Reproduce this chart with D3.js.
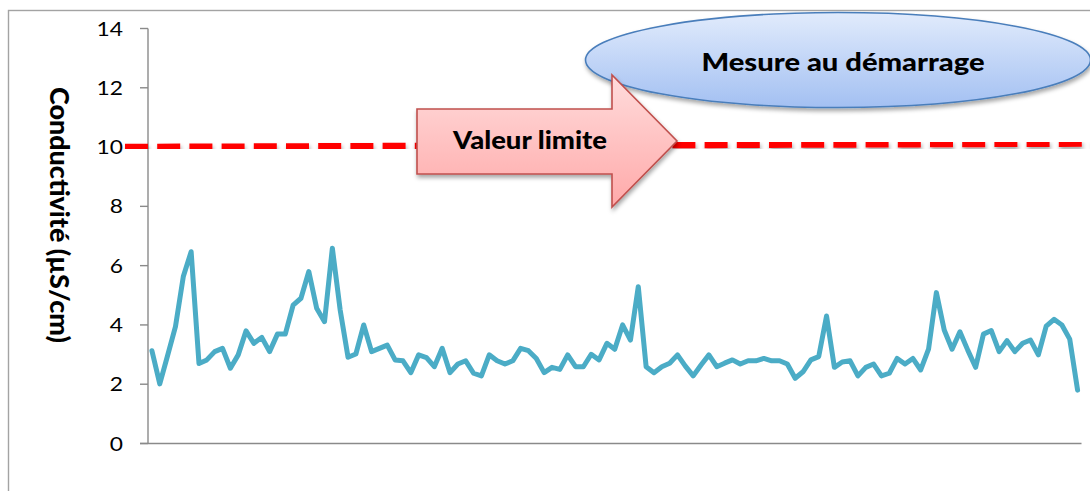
<!DOCTYPE html>
<html>
<head>
<meta charset="utf-8">
<script src="https://cdn.jsdelivr.net/npm/d3@7/dist/d3.min.js"></script>
<style>
  html, body { margin: 0; padding: 0; background: #fff; }
  svg { display: block; }
  text { font-family: Lato, "Open Sans", "DejaVu Sans", sans-serif; }
</style>
</head>
<body>
<svg id="chart" width="1090" height="491"></svg>
<script>
// Conductivity readings (µS/cm), one per measurement
const conductivity = [
  3.13, 2.01, 2.97, 3.94, 5.63, 6.47, 2.70, 2.82, 3.10, 3.21,
  2.54, 2.99, 3.80, 3.38, 3.58, 3.10, 3.69, 3.69, 4.67, 4.90,
  5.80, 4.56, 4.11, 6.59, 4.50, 2.91, 3.02, 4.00, 3.10, 3.21,
  3.32, 2.82, 2.79, 2.39, 2.99, 2.90, 2.59, 3.21, 2.39, 2.68,
  2.79, 2.37, 2.28, 2.99, 2.79, 2.68, 2.79, 3.21, 3.13, 2.87,
  2.39, 2.57, 2.50, 2.99, 2.59, 2.59, 3.01, 2.82, 3.38,
  3.18, 4.00, 3.49, 5.29, 2.59, 2.39, 2.59, 2.71, 2.99, 2.61,
  2.28, 2.65, 2.99, 2.59, 2.71, 2.82, 2.68, 2.79, 2.79, 2.87,
  2.79, 2.79, 2.68, 2.20, 2.42, 2.82, 2.93, 4.30, 2.57,
  2.75, 2.79, 2.28, 2.57, 2.68, 2.28, 2.37, 2.87, 2.68, 2.87,
  2.48, 3.18, 5.09, 3.83, 3.18, 3.77, 3.15, 2.57, 3.69, 3.81,
  3.10, 3.47, 3.10, 3.38, 3.49, 2.99, 3.96, 4.19, 4.00, 3.52,
  1.80
];
const measureIndex = d3.range(1, conductivity.length + 1);

// Axis ticks and annotation values
const yTicks = [0, 2, 4, 6, 8, 10, 12, 14];
const limitLine = [10, 10.12];           // limit value at left and right ends
const yTitle = "Conductivité (µS/cm)";
const limitLabel = "Valeur limite";
const startLabel = "Mesure au démarrage";

const svg = d3.select("#chart");
const plot = { left: 148, right: 1081.5, top: 28.5, bottom: 443.5 };
const stretch = 1.2;

const x = d3.scalePoint().domain(measureIndex).range([plot.left, plot.right]).padding(0.5);
const y = d3.scaleLinear().domain([0, 14]).range([plot.bottom, plot.top]);

// Definitions: gradients and shadows
const defs = svg.append("defs");
const shadow = defs.append("filter").attr("id", "shadow")
  .attr("x", "-10%").attr("y", "-30%").attr("width", "120%").attr("height", "180%");
shadow.append("feDropShadow").attr("dx", 1).attr("dy", 3).attr("stdDeviation", 2)
  .attr("flood-color", "#000").attr("flood-opacity", 0.35);

const blueGrad = defs.append("linearGradient").attr("id", "blueGrad")
  .attr("x1", 0).attr("y1", 0).attr("x2", 0).attr("y2", 1);
blueGrad.append("stop").attr("offset", "0%").attr("stop-color", "#e1ebfc");
blueGrad.append("stop").attr("offset", "100%").attr("stop-color", "#a3c0f2");

const pinkGrad = defs.append("linearGradient").attr("id", "pinkGrad")
  .attr("x1", 0).attr("y1", 0).attr("x2", 0).attr("y2", 1);
pinkGrad.append("stop").attr("offset", "0%").attr("stop-color", "#ffdcdc");
pinkGrad.append("stop").attr("offset", "100%").attr("stop-color", "#ffa9a9");

// Outer chart frame
svg.append("rect")
  .attr("x", 8.5).attr("y", 10.5).attr("width", 1200).attr("height", 600)
  .attr("fill", "none").attr("stroke", "#a3a3a3").attr("stroke-width", 1.4);

// Y axis
const axisColor = "#8a8a8a";
const yAxis = svg.append("g");
yAxis.append("line")
  .attr("x1", plot.left).attr("x2", plot.left)
  .attr("y1", y(14)).attr("y2", y(0))
  .attr("stroke", axisColor).attr("stroke-width", 1.4);
yAxis.selectAll("line.tick").data(yTicks).join("line").attr("class", "tick")
  .attr("x1", plot.left - 8).attr("x2", plot.left)
  .attr("y1", d => y(d)).attr("y2", d => y(d))
  .attr("stroke", axisColor).attr("stroke-width", 1.4);
yAxis.selectAll("text").data(yTicks).join("text")
  .attr("transform", d => `translate(123, ${y(d) + 7}) scale(${stretch},1)`)
  .attr("text-anchor", "end")
  .attr("font-size", 19)
  .attr("fill", "#000")
  .text(d => d);

// X axis line
svg.append("line")
  .attr("x1", plot.left - 8).attr("x2", plot.right)
  .attr("y1", y(0)).attr("y2", y(0))
  .attr("stroke", axisColor).attr("stroke-width", 1.4);

// Y axis title
svg.append("text")
  .attr("transform", `translate(50, 215) scale(${stretch},1) rotate(90)`)
  .attr("text-anchor", "middle")
  .attr("font-size", 22)
  .attr("font-weight", 900)
  .attr("fill", "#000")
  .attr("textLength", 256)
  .attr("lengthAdjust", "spacingAndGlyphs")
  .text(yTitle);

// Conductivity series
svg.append("path")
  .datum(conductivity)
  .attr("fill", "none")
  .attr("stroke", "#4bacc6")
  .attr("stroke-width", 5)
  .attr("stroke-linejoin", "round")
  .attr("stroke-linecap", "round")
  .attr("d", d3.line().x((d, i) => x(measureIndex[i])).y(d => y(d)));

// Limit line (dashed red)
svg.append("line")
  .attr("x1", 125).attr("x2", 1092)
  .attr("y1", y(limitLine[0])).attr("y2", y(limitLine[1]))
  .attr("stroke", "#ff0000")
  .attr("stroke-width", 6.5)
  .attr("stroke-dasharray", "23 9.2")
  .attr("filter", "url(#shadow)");

// Ellipse callout
svg.append("ellipse")
  .attr("cx", 838).attr("cy", 60).attr("rx", 252.5).attr("ry", 47.5)
  .attr("fill", "url(#blueGrad)")
  .attr("stroke", "#4a7ebb").attr("stroke-width", 1.6)
  .attr("filter", "url(#shadow)");
svg.append("text")
  .attr("x", 701.5).attr("y", 70.5)
  .attr("font-size", 24).attr("font-weight", 900).attr("fill", "#000")
  .attr("textLength", 283).attr("lengthAdjust", "spacingAndGlyphs")
  .text(startLabel);

// Block arrow callout
const arrow = [[417, 109], [612, 109], [612, 75], [677, 141], [612, 207], [612, 174], [417, 174]];
svg.append("path")
  .attr("d", d3.line()(arrow) + "Z")
  .attr("fill", "url(#pinkGrad)")
  .attr("stroke", "#c0504d").attr("stroke-width", 1.6)
  .attr("stroke-linejoin", "miter")
  .attr("filter", "url(#shadow)");
svg.append("text")
  .attr("x", 453).attr("y", 149)
  .attr("font-size", 24).attr("font-weight", 900).attr("fill", "#000")
  .attr("textLength", 154).attr("lengthAdjust", "spacingAndGlyphs")
  .text(limitLabel);
</script>
</body>
</html>
